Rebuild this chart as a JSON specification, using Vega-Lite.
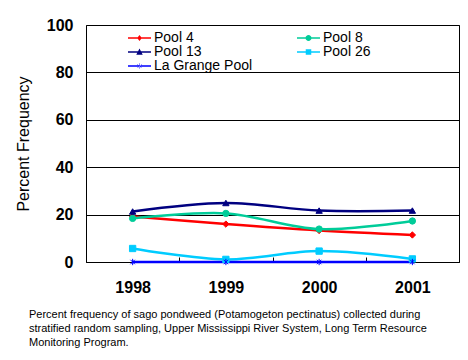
{
  "$schema": "https://vega.github.io/schema/vega-lite/v6.json",
  "width": 373,
  "height": 237,
  "autosize": {"type": "none"},
  "padding": {"left": 86, "top": 25, "right": 9, "bottom": 98},
  "background": "white",
  "config": {
    "font": "Liberation Sans",
    "view": {"stroke": "black", "strokeWidth": 1}
  },
  "title": {
    "text": ["Percent frequency of sago pondweed (Potamogeton pectinatus) collected during", "stratified random sampling, Upper Mississippi River System, Long Term Resource", "Monitoring Program."],
    "orient": "bottom",
    "anchor": "start",
    "frame": "group",
    "dx": -57,
    "offset": 14,
    "fontSize": 11,
    "fontWeight": "normal",
    "font": "Liberation Sans",
    "color": "black",
    "lineHeight": 14
  },
  "data": {
    "values": [
      {"year": "1998", "series": "Pool 4", "value": 19.2},
      {"year": "1999", "series": "Pool 4", "value": 16.0},
      {"year": "2000", "series": "Pool 4", "value": 13.3},
      {"year": "2001", "series": "Pool 4", "value": 11.4},
      {"year": "1998", "series": "Pool 8", "value": 18.4},
      {"year": "1999", "series": "Pool 8", "value": 20.5},
      {"year": "2000", "series": "Pool 8", "value": 13.9},
      {"year": "2001", "series": "Pool 8", "value": 17.3},
      {"year": "1998", "series": "Pool 13", "value": 21.3},
      {"year": "1999", "series": "Pool 13", "value": 24.9},
      {"year": "2000", "series": "Pool 13", "value": 21.7},
      {"year": "2001", "series": "Pool 13", "value": 21.7},
      {"year": "1998", "series": "Pool 26", "value": 5.7},
      {"year": "1999", "series": "Pool 26", "value": 1.1},
      {"year": "2000", "series": "Pool 26", "value": 4.6},
      {"year": "2001", "series": "Pool 26", "value": 1.3},
      {"year": "1998", "series": "La Grange Pool", "value": 0},
      {"year": "1999", "series": "La Grange Pool", "value": 0},
      {"year": "2000", "series": "La Grange Pool", "value": 0},
      {"year": "2001", "series": "La Grange Pool", "value": 0}
    ]
  },
  "encoding": {
    "x": {
      "field": "year",
      "type": "ordinal",
      "bandPosition": 0.5,
      "scale": {"type": "band", "paddingInner": 0, "paddingOuter": 0},
      "axis": {
        "title": null,
        "labelAngle": 0,
        "labelFont": "Liberation Sans",
        "labelFontSize": 16,
        "labelFontWeight": "bold",
        "labelColor": "black",
        "labelPadding": 22,
        "tickBand": "extent",
        "tickSize": -5,
        "tickWidth": 1,
        "tickColor": "black",
        "domain": false,
        "grid": false
      }
    },
    "y": {
      "field": "value",
      "type": "quantitative",
      "scale": {"domain": [0, 100], "nice": false},
      "axis": {
        "title": "Percent Frequency",
        "titleFont": "Liberation Sans",
        "titleFontSize": 16,
        "titleFontWeight": "normal",
        "titleColor": "black",
        "titlePadding": 15,
        "values": [0, 20, 40, 60, 80, 100],
        "labelFont": "Liberation Sans",
        "labelFontSize": 16,
        "labelFontWeight": "bold",
        "labelColor": "black",
        "labelPadding": 13,
        "ticks": false,
        "domain": false,
        "grid": true,
        "gridColor": "black",
        "gridOpacity": 1,
        "gridWidth": 1
      }
    }
  },
  "layer": [
    {
      "mark": {"type": "line", "interpolate": "catmull-rom", "strokeWidth": 2.5},
      "encoding": {
        "color": {
          "field": "series",
          "type": "nominal",
          "scale": {"domain": ["Pool 4", "Pool 8", "Pool 13", "Pool 26", "La Grange Pool"], "range": ["#FF0000", "#00CC99", "#000080", "#00CCFF", "#0000FF"]},
          "legend": null
        }
      }
    },
    {
      "mark": {"type": "point", "filled": true, "opacity": 1, "strokeWidth": 1},
      "encoding": {
        "color": {"field": "series", "type": "nominal", "legend": null, "scale": {"domain": ["Pool 4", "Pool 8", "Pool 13", "Pool 26", "La Grange Pool"], "range": ["#FF0000", "#00CC99", "#000080", "#00CCFF", "#0000FF"]}},
        "stroke": {"field": "series", "type": "nominal", "legend": null, "scale": {"domain": ["Pool 4", "Pool 8", "Pool 13", "Pool 26", "La Grange Pool"], "range": ["#FF0000", "#00CC99", "#000080", "#00CCFF", "#0000FF"]}},
        "shape": {
          "field": "series",
          "type": "nominal",
          "legend": null,
          "scale": {"domain": ["Pool 4", "Pool 8", "Pool 13", "Pool 26", "La Grange Pool"], "range": ["diamond", "circle", "triangle-up", "square", "M-0.7,-0.7L0.7,0.7M0.7,-0.7L-0.7,0.7M0,-1V1"]}
        },
        "size": {"value": 40}
      }
    },
    {
      "mark": {"type": "point", "filled": true, "opacity": 0},
      "encoding": {
        "color": {
          "field": "series",
          "type": "nominal",
          "scale": {"domain": ["Pool 4", "Pool 8", "Pool 13", "Pool 26", "La Grange Pool"], "range": ["#FF0000", "#00CC99", "#000080", "#00CCFF", "#0000FF"]},
          "legend": {
            "title": null,
            "orient": "none",
            "direction": "horizontal",
            "legendX": 42,
            "legendY": 6,
            "columns": 2,
            "columnPadding": 44,
            "rowPadding": 0,
            "clipHeight": 14,
            "padding": 0,
            "labelFont": "Liberation Sans",
            "labelFontSize": 14,
            "labelColor": "black",
            "labelOffset": 3,
            "symbolSize": 529,
            "symbolOpacity": 1,
            "symbolStrokeWidth": 0
          }
        },
        "shape": {
          "field": "series",
          "type": "nominal",
          "legend": {
            "title": null,
            "orient": "none",
            "direction": "horizontal",
            "legendX": 42,
            "legendY": 6,
            "columns": 2,
            "columnPadding": 44,
            "rowPadding": 0,
            "clipHeight": 14,
            "padding": 0,
            "labelFont": "Liberation Sans",
            "labelFontSize": 14,
            "labelColor": "black",
            "labelOffset": 3,
            "symbolSize": 529,
            "symbolOpacity": 1,
            "symbolStrokeWidth": 0
          },
          "scale": {"domain": ["Pool 4", "Pool 8", "Pool 13", "Pool 26", "La Grange Pool"], "range": [
            "M-1,-0.06H1V0.06H-1ZM0,-0.26L0.2,0L0,0.26L-0.2,0Z",
            "M-1,-0.06H1V0.06H-1ZM0.26,0A0.26,0.26,0,1,1,-0.26,0A0.26,0.26,0,1,1,0.26,0Z",
            "M-1,-0.06H1V0.06H-1ZM0,-0.3L0.28,0.24H-0.28Z",
            "M-1,-0.06H1V0.06H-1ZM-0.24,-0.24H0.24V0.24H-0.24Z",
            "M-1,-0.06H1V0.06H-1ZM-0.02,-0.24H0.02V0.24H-0.02ZM-0.2,-0.15L0.2,0.15L0.18,0.18L-0.22,-0.12ZM0.2,-0.15L-0.2,0.15L-0.18,0.18L0.22,-0.12Z"
          ]}
        }
      }
    }
  ],
  "resolve": {"scale": {"shape": "independent", "stroke": "independent", "color": "independent"}}
}
